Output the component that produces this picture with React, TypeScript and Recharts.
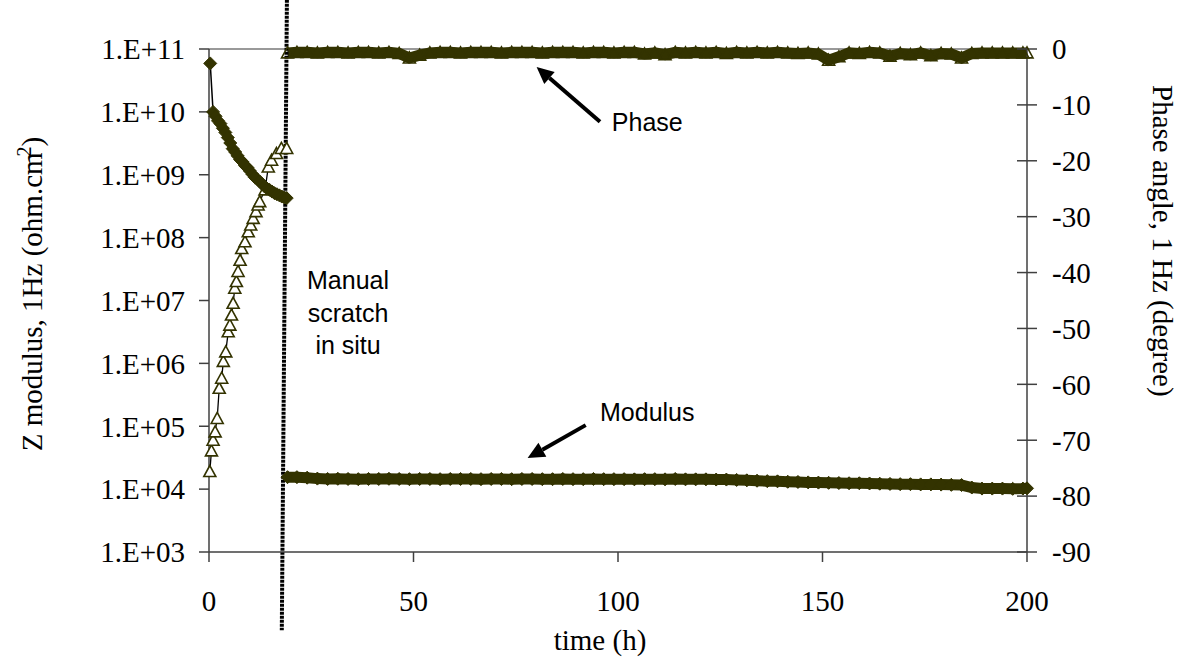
import React from 'react';
import {
  ComposedChart,
  Line,
  XAxis,
  YAxis,
  ReferenceLine,
  ReferenceDot
} from 'recharts';

// Modulus (left axis, log) before the scratch
const modulusPreTime = [0.3, 1.0, 1.6, 2.2, 2.8, 3.4, 4.0, 4.6, 5.2, 5.8, 6.4, 7.0, 7.6, 8.2, 8.8, 9.4, 10.0, 10.6, 11.2, 11.8, 12.4, 13.0, 13.6, 14.2, 14.8, 15.4, 16.0, 16.6, 17.2, 17.8, 18.4, 19.0];
const modulusPreValue = [5.9e10, 1.0e10, 8.5e9, 7.2e9, 6.5e9, 5.5e9, 4.7e9, 3.9e9, 3.2e9, 2.6e9, 2.3e9, 2.0e9, 1.75e9, 1.6e9, 1.4e9, 1.3e9, 1.15e9, 1.02e9, 9.1e8, 8.5e8, 7.8e8, 7.1e8, 6.5e8, 6.0e8, 5.75e8, 5.4e8, 5.1e8, 4.9e8, 4.7e8, 4.5e8, 4.35e8, 4.25e8];

// Phase (right axis) before the scratch
const phasePreTime = [0.2, 0.6, 1.0, 1.5, 2.0, 2.5, 3.1, 3.5, 4.1, 4.7, 5.1, 5.5, 5.9, 6.3, 6.7, 7.1, 7.6, 8.0, 8.8, 9.6, 10.2, 10.8, 11.5, 12.0, 12.4, 13.7, 14.5, 15.3, 16.5, 17.7, 19.0];
const phasePreValue = [-75.6, -71.9, -70.0, -68.5, -66.1, -60.7, -58.9, -55.9, -54.2, -50.6, -49.4, -47.6, -45.5, -42.8, -41.6, -39.8, -37.8, -35.7, -34.5, -32.7, -31.5, -30.3, -29.1, -27.9, -27.3, -25.2, -21.1, -19.9, -18.7, -17.8, -17.8];

// after the scratch (same sampling times for both series)
const postTime = [
  19.2, 21.5, 24, 26.5, 29, 31.5, 34, 36.5, 39, 41.5, 44, 46.5, 49, 51.5, 54, 56.5, 59, 61.5, 64, 66.5,
  69, 71.5, 74, 76.5, 79, 81.5, 84, 86.5, 89, 91.5, 94, 96.5, 99, 101.5, 104, 106.5, 109, 111.5, 114, 116.5,
  119, 121.5, 124, 126.5, 129, 131.5, 134, 136.5, 139, 141.5, 144, 146.5, 149, 151.5, 154, 156.5, 159, 161.5, 164, 166.5,
  169, 171.5, 174, 176.5, 179, 181.5, 184, 186.5, 189, 191.5, 194, 196.5, 199, 200
];
const modulusPostValue = [
  15500, 15500, 15200, 14700, 14500, 14600, 14500, 14400, 14500, 14500, 14600, 14500, 14400, 14500, 14500, 14400, 14500, 14500, 14500, 14400,
  14500, 14500, 14400, 14500, 14500, 14400, 14400, 14500, 14400, 14400, 14500, 14400, 14400, 14400, 14300, 14400, 14400, 14300, 14500, 14300,
  14300, 14300, 14200, 14200, 14000, 13800, 13600, 13400, 13300, 13100, 13000, 12800, 12700, 12600, 12500, 12400, 12400, 12300, 12200, 12100,
  12000, 12000, 11900, 11900, 11800, 11700, 11600, 10600, 10200, 10200, 10200, 10100, 10200, 10300
];
const phasePostValue = [
  -0.7, -0.6, -0.6, -0.7, -0.6, -0.6, -0.7, -0.6, -0.6, -0.7, -0.6, -0.8, -1.6, -1.1, -0.7, -0.6, -0.6, -0.7, -0.6, -0.6,
  -0.6, -0.7, -0.6, -0.6, -0.6, -0.7, -0.6, -0.6, -0.6, -0.7, -0.6, -0.6, -0.7, -0.6, -0.6, -0.9, -0.7, -1.0, -0.6, -0.7,
  -0.6, -0.7, -0.6, -0.8, -0.6, -0.7, -0.6, -0.7, -0.6, -0.7, -0.8, -0.7, -0.9, -2.0, -1.4, -0.7, -0.8, -0.6, -0.7, -1.3,
  -0.8, -1.0, -0.7, -1.2, -0.8, -0.9, -1.6, -0.8, -0.7, -0.7, -0.7, -0.7, -0.7, -0.7
];

const timeTicks = [0, 50, 100, 150, 200];
const modulusTicks = [1e3, 1e4, 1e5, 1e6, 1e7, 1e8, 1e9, 1e10, 1e11];
const phaseTicks = [-90, -80, -70, -60, -50, -40, -30, -20, -10, 0];

const modulusPre = modulusPreTime.map((t, i) => ({ t, v: modulusPreValue[i] }));
const phasePre = phasePreTime.map((t, i) => ({ t, v: phasePreValue[i] }));
const modulusPost = postTime.map((t, i) => ({ t, v: modulusPostValue[i] }));
const phasePost = postTime.map((t, i) => ({ t, v: phasePostValue[i] }));

const SERIF = '"Liberation Serif", "Times New Roman", serif';
const SANS = '"Liberation Sans", Arial, sans-serif';
const OLIVE = '#333300';
const AXIS = '#404040';
const FS = 29;

const expLabel = (v: number) => {
  const e = Math.round(Math.log10(v));
  return `1.E+${String(e).padStart(2, '0')}`;
};

const renderDiamond = (p: any) => {
  const { cx, cy, index } = p;
  if (cx == null || cy == null) return <g key={`d-${index}`} />;
  const s = 6.5;
  return (
    <polygon
      key={`d-${index}`}
      points={`${cx},${cy - s} ${cx + s},${cy} ${cx},${cy + s} ${cx - s},${cy}`}
      fill={OLIVE}
      stroke={OLIVE}
      strokeWidth={1}
    />
  );
};

const makeTriangle = (fill: string) => (p: any) => {
  const { cx, cy, index } = p;
  if (cx == null || cy == null) return <g key={`t-${index}`} />;
  return (
    <polygon
      key={`t-${index}`}
      points={`${cx},${cy - 6} ${cx + 6},${cy + 5} ${cx - 6},${cy + 5}`}
      fill={fill}
      stroke={OLIVE}
      strokeWidth={1.6}
    />
  );
};

const RightTick = (p: any) => {
  const { x, y, payload } = p;
  return (
    <g>
      <line x1={x - 35} x2={x - 25} y1={y} y2={y} stroke={AXIS} strokeWidth={1.5} />
      <text x={x} y={y} dy="0.355em" textAnchor="start" fontFamily={SERIF} fontSize={FS} fill="#000">
        {payload.value}
      </text>
    </g>
  );
};

const renderArrow = (p: any) => {
  const { x1, y1, x2, y2 } = p;
  const dx = x2 - x1;
  const dy = y2 - y1;
  const len = Math.hypot(dx, dy) || 1;
  const ux = dx / len;
  const uy = dy / len;
  const hl = 17;
  const hw = 8;
  const bx = x2 - ux * hl;
  const by = y2 - uy * hl;
  return (
    <g>
      <line x1={x1} y1={y1} x2={bx} y2={by} stroke="#000" strokeWidth={4} />
      <polygon
        points={`${x2},${y2} ${bx - uy * hw},${by + ux * hw} ${bx + uy * hw},${by - ux * hw}`}
        fill="#000"
      />
    </g>
  );
};

const noteText = (lines: string[], anchor: 'start' | 'middle') => (p: any) => {
  const { cx, cy } = p;
  const gap = 32.5;
  const first = -((lines.length - 1) / 2) * gap;
  return (
    <text fontFamily={SANS} fontSize={25} fill="#000" textAnchor={anchor}>
      {lines.map((s, i) => (
        <tspan key={s} x={cx} y={cy + first + i * gap} dy={9}>
          {s}
        </tspan>
      ))}
    </text>
  );
};

export default function App() {
  return (
    <div style={{ position: 'absolute', left: 0, top: 0, width: 1186, height: 659, background: '#fff' }}>
      <ComposedChart width={1186} height={659} margin={{ top: 49, right: 0, bottom: 47, left: 0 }}>
        <XAxis
          type="number"
          dataKey="t"
          domain={[0, 200]}
          ticks={timeTicks}
          interval={0}
          allowDuplicatedCategory={false}
          height={60}
          tickSize={10}
          tickMargin={28}
          axisLine={{ stroke: AXIS, strokeWidth: 1.5 }}
          tickLine={{ stroke: AXIS, strokeWidth: 1.5 }}
          tick={{ fontFamily: SERIF, fontSize: FS, fill: '#000' }}
        />
        <YAxis
          yAxisId="left"
          type="number"
          scale="log"
          domain={[1e3, 1e11]}
          ticks={modulusTicks}
          interval={0}
          width={209}
          tickSize={10}
          tickMargin={14}
          tickFormatter={expLabel}
          axisLine={{ stroke: AXIS, strokeWidth: 1.5 }}
          tickLine={{ stroke: AXIS, strokeWidth: 1.5 }}
          tick={{ fontFamily: SERIF, fontSize: FS, fill: '#000' }}
        />
        <YAxis
          yAxisId="right"
          orientation="right"
          type="number"
          domain={[-90, 0]}
          ticks={phaseTicks}
          interval={0}
          width={159}
          tickSize={10}
          tickMargin={15}
          axisLine={{ stroke: AXIS, strokeWidth: 1.5 }}
          tickLine={{ stroke: AXIS, strokeWidth: 1.5 }}
          tick={<RightTick />}
        />

        <ReferenceLine yAxisId="left" y={1e11} stroke="#999" strokeWidth={2} />

        <Line
          yAxisId="right"
          data={phasePre}
          dataKey="v"
          type="linear"
          stroke="#000"
          strokeWidth={1.3}
          dot={makeTriangle('#fff')}
          isAnimationActive={false}
        />
        <Line
          yAxisId="right"
          data={phasePost}
          dataKey="v"
          type="linear"
          stroke={OLIVE}
          strokeWidth={11}
          dot={makeTriangle('none')}
          isAnimationActive={false}
        />
        <Line
          yAxisId="left"
          data={modulusPre}
          dataKey="v"
          type="linear"
          stroke="#000"
          strokeWidth={1.5}
          dot={renderDiamond}
          isAnimationActive={false}
        />
        <Line
          yAxisId="left"
          data={modulusPost}
          dataKey="v"
          type="linear"
          stroke={OLIVE}
          strokeWidth={11}
          dot={renderDiamond}
          isAnimationActive={false}
        />

        {/* manual scratch marker */}
        <ReferenceLine
          yAxisId="right"
          segment={[{ x: 19.05, y: 8.8 }, { x: 17.8, y: -104 }]}
          stroke="#000"
          strokeWidth={4}
          strokeDasharray="3 1"
          ifOverflow="visible"
        />

        <ReferenceLine
          yAxisId="right"
          segment={[{ x: 95.6, y: -13.0 }, { x: 80.1, y: -3.2 }]}
          shape={renderArrow}
          ifOverflow="visible"
        />
        <ReferenceLine
          yAxisId="right"
          segment={[{ x: 92.1, y: -67.3 }, { x: 77.9, y: -73.2 }]}
          shape={renderArrow}
          ifOverflow="visible"
        />
        <ReferenceDot yAxisId="right" x={98.5} y={-13.1} ifOverflow="visible" shape={noteText(['Phase'], 'start')} />
        <ReferenceDot yAxisId="right" x={95.6} y={-65.0} ifOverflow="visible" shape={noteText(['Modulus'], 'start')} />
        <ReferenceDot
          yAxisId="right"
          x={34.0}
          y={-47.2}
          ifOverflow="visible"
          shape={noteText(['Manual', 'scratch', 'in situ'], 'middle')}
        />
      </ComposedChart>

      <svg
        width={1186}
        height={659}
        style={{ position: 'absolute', left: 0, top: 0, pointerEvents: 'none' }}
      >
        <text
          x={42}
          y={294}
          transform="rotate(-90, 42, 294)"
          textAnchor="middle"
          fontFamily={SERIF}
          fontSize={FS}
          fill="#000"
        >
          Z modulus, 1Hz (ohm.cm
          <tspan dy={-11} dx={-4} fontSize={20}>2</tspan>
          <tspan dy={11}>)</tspan>
        </text>
        <text
          x={1153}
          y={85}
          transform="rotate(90, 1153, 85)"
          textAnchor="start"
          fontFamily={SERIF}
          fontSize={FS}
          fill="#000"
        >
          Phase angle, 1 Hz (degree)
        </text>
        <text x={600} y={650} textAnchor="middle" fontFamily={SERIF} fontSize={FS} fill="#000">
          time (h)
        </text>
      </svg>
    </div>
  );
}
